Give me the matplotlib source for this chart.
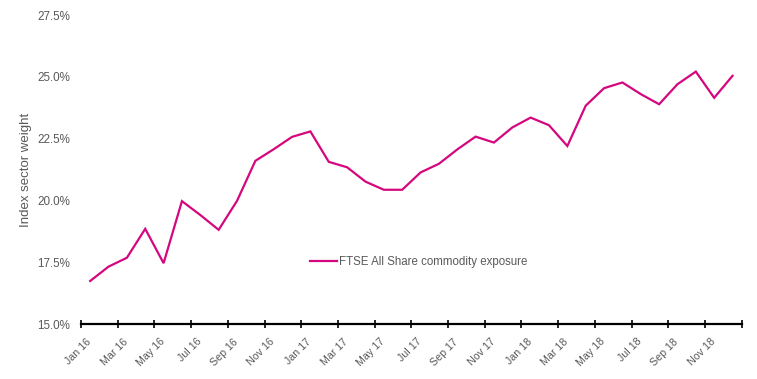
import matplotlib
matplotlib.use("Agg")
import matplotlib.pyplot as plt
import matplotlib.transforms as mtransforms
import numpy as np

# ===== data =====
months = ["Jan", "Feb", "Mar", "Apr", "May", "Jun",
          "Jul", "Aug", "Sep", "Oct", "Nov", "Dec"]
years = ["16", "17", "18"]
categories = [f"{m} {y}" for y in years for m in months]

weights = [16.74, 17.32, 17.68, 18.85, 17.46, 19.97, 19.41, 18.81, 19.98,
           21.60, 22.07, 22.57, 22.79, 21.56, 21.34, 20.76, 20.43, 20.43,
           21.13, 21.48, 22.06, 22.58, 22.34, 22.95, 23.35, 23.04, 22.20,
           23.83, 24.54, 24.77, 24.30, 23.89, 24.70, 25.21, 24.15, 25.04]

y_ticks = [15.0, 17.5, 20.0, 22.5, 25.0, 27.5]
series_label = "FTSE All Share commodity exposure"

# ===== plot =====
plt.rcParams["font.family"] = ["Liberation Sans", "DejaVu Sans"]
grey = "#595959"
pink = "#D4077F"

fig = plt.figure(figsize=(7.57, 3.79), dpi=100)
ax = fig.add_axes([81 / 757, 1 - 324 / 379, 660.7 / 757, 309 / 379])

x = np.arange(len(weights))
ax.plot(x, weights, color=pink, lw=1.6, label=series_label,
        solid_joinstyle="miter")

ax.set_xlim(-0.5, len(weights) - 0.5)
ax.set_ylim(y_ticks[0], y_ticks[-1])

ax.set_yticks(y_ticks)
ax.set_yticklabels([f"{v:.1f}%" for v in y_ticks])
ax.tick_params(axis="y", length=0, pad=8, labelsize=8.4, labelcolor=grey)

# ticks on category boundaries, labels at every second category
ax.set_xticks(np.arange(-0.5, len(weights), 2))
ax.set_xticklabels([])
ax.set_xticks(x[::2], minor=True)
ax.set_xticklabels(categories[::2], minor=True, rotation=45,
                   ha="right", va="top")
ax.tick_params(axis="x", which="major", direction="inout", length=6,
               width=1.2, color="black")
ax.tick_params(axis="x", which="minor", length=0, pad=9,
               labelsize=7.7, labelcolor=grey)
shift = mtransforms.ScaledTranslation(3 / 100, 0, fig.dpi_scale_trans)
for lab in ax.get_xticklabels(minor=True):
    lab.set_transform(lab.get_transform() + shift)

for side in ["top", "right", "left"]:
    ax.spines[side].set_visible(False)
ax.spines["bottom"].set_linewidth(1.6)
ax.spines["bottom"].set_color("black")

ax.set_ylabel("Index sector weight", fontsize=9.5, color=grey)
ax.yaxis.set_label_coords(-49 / 660.7, 0.5)

leg = ax.legend(frameon=False, loc="center left",
                bbox_to_anchor=(0.3466, 0.2006), borderpad=0,
                borderaxespad=0, handlelength=2.35, handletextpad=0.2,
                fontsize=8.3)
for t in leg.get_texts():
    t.set_color(grey)

fig.savefig("out.png", dpi=100)
